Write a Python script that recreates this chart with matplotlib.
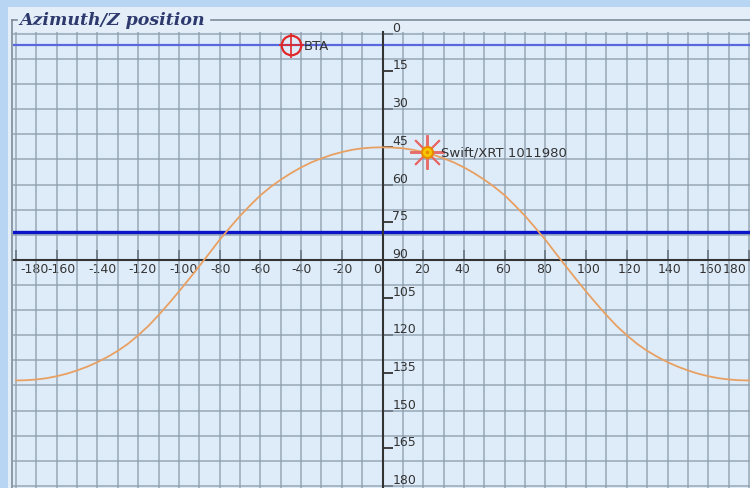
import matplotlib
matplotlib.use("Agg")
import matplotlib.pyplot as plt
from matplotlib.lines import Line2D
from matplotlib.patches import Rectangle
import matplotlib.transforms as mtransforms
import numpy as np

# diurnal path (azimuth deg, zenith distance deg)
path_az = [-180, -175, -170, -165, -160, -155, -150, -145, -140, -135, -130, -125,
           -120, -115, -110, -105, -100, -95, -90, -85, -80, -75, -70, -65,
           -60, -55, -50, -45, -40, -35, -30, -25, -20, -15, -10, -5,
           0, 5, 10, 15, 20, 25, 30, 35, 40, 45, 50, 55,
           60, 65, 70, 75, 80, 85, 90, 95, 100, 105, 110, 115,
           120, 125, 130, 135, 140, 145, 150, 155, 160, 165, 170, 175, 180]
path_z = [138.0, 137.9, 137.6, 137.1, 136.3, 135.3, 134.0, 132.5, 130.7, 128.6, 126.2, 123.4,
          120.0, 116.3, 112.0, 107.4, 102.6, 97.6, 92.5, 87.3, 82.0, 77.2, 72.5, 68.3,
          64.3, 61.0, 58.1, 55.5, 53.2, 51.2, 49.6, 48.2, 47.1, 46.2, 45.6, 45.3,
          45.2, 45.3, 45.6, 46.2, 47.1, 48.2, 49.6, 51.2, 53.2, 55.5, 58.1, 61.0,
          64.3, 68.3, 72.5, 77.2, 82.0, 87.3, 92.5, 97.6, 102.6, 107.4, 112.0, 116.3,
          120.0, 123.4, 126.2, 128.6, 130.7, 132.5, 134.0, 135.3, 136.3, 137.1, 137.6, 137.9, 138.0]

bta_az, bta_z = -45, 4.5
swift_az, swift_z = 22, 47.2
horizon_z = 79

xticks = list(range(-180, 181, 20))
yticks = list(range(0, 181, 15))

outer_bg = "#b8d6f4"
panel_bg = "#e3eef9"
plot_bg = "#deecfa"
grid_col = "#8e9eac"
text_col = "#333333"

W, H = 750, 489
fig = plt.figure(figsize=(W / 100, H / 100), dpi=100, facecolor=outer_bg)

# light panel and fieldset border
fig.add_artist(Rectangle((8 / W, 0), 1, 1 - 8 / H, transform=fig.transFigure,
                         facecolor=panel_bg, edgecolor="none", zorder=0))
fy = 1 - 20.5 / H
fig.add_artist(Line2D([12 / W, 12 / W], [0, fy], transform=fig.transFigure, color="#7d8c98", lw=1.2))
fig.add_artist(Line2D([12 / W, 17 / W], [fy, fy], transform=fig.transFigure, color="#7d8c98", lw=1.2))
fig.add_artist(Line2D([211 / W, 1], [fy, fy], transform=fig.transFigure, color="#7d8c98", lw=1.2))
fig.text(19 / W, fy, "Azimuth/Z position", ha="left", va="center",
         family="DejaVu Serif", weight="bold", style="italic", fontsize=12.5, color="#2e3a6e")

ax = fig.add_axes([13 / W, 0, 737 / W, 456 / H])
ax.set_facecolor(plot_bg)
ax.set_xlim(-181.5, 180.5)
ax.set_ylim(180.8, -0.7)

# grid every 10 degrees
ax.xaxis.remove_overlapping_locs = False
ax.yaxis.remove_overlapping_locs = False
ax.set_xticks(np.arange(-180, 181, 10), minor=True)
ax.set_yticks(np.arange(0, 181, 10), minor=True)
ax.grid(which="minor", color=grid_col, lw=1.3, alpha=0.75)
ax.grid(which="major", visible=False)
ax.tick_params(which="minor", length=0)
ax.set_axisbelow(True)

# axes crossing at (0, 90)
for s in ["left", "top"]:
    ax.spines[s].set_visible(False)
ax.spines["bottom"].set_position(("data", 90))
ax.spines["right"].set_position(("data", 0))
for s in ["bottom", "right"]:
    ax.spines[s].set_color("#333333")
    ax.spines[s].set_linewidth(1.5)
    ax.spines[s].set_zorder(3)

ax.set_xticks(xticks)
ax.set_xticklabels([str(v) for v in xticks])
ax.xaxis.set_ticks_position("bottom")
ax.tick_params(axis="x", which="major", direction="in", length=7, width=1.3,
               color="#333333", labelsize=9, labelcolor=text_col, pad=1.5)

ax.set_yticks(yticks)
ax.set_yticklabels([str(v) for v in yticks])
ax.yaxis.set_ticks_position("right")
ax.tick_params(axis="y", which="major", direction="out", length=7, width=1.3,
               color="#333333", labelsize=9, labelcolor=text_col, pad=0)

for lab, v in zip(ax.get_xticklabels(), xticks):
    if v == -180:
        dx = 4
        lab.set_ha("left")
    elif v == 180:
        dx = -2
        lab.set_ha("right")
    else:
        dx = -9.5
        lab.set_ha("left")
    lab.set_transform(lab.get_transform() + mtransforms.ScaledTranslation(dx / 100, 0, fig.dpi_scale_trans))

for lab in ax.get_yticklabels():
    lab.set_va("bottom")
    lab.set_ha("left")

# horizon-ish lines
ax.axhline(bta_z, color="#5a68e0", lw=1.6, zorder=2)
ax.axhline(horizon_z, color="#0a14c8", lw=2.4, zorder=2)

# path of the object
ax.plot(path_az, path_z, color="#e8a062", lw=1.3, zorder=4)

# BTA telescope marker
ax.plot(bta_az, bta_z, marker="o", ms=14, mfc="none", mec="#e02828", mew=1.6, zorder=5)
ax.plot(bta_az, bta_z, marker="+", ms=18, mec="#e02828", mew=1.2, zorder=5)
ax.annotate("BTA", (bta_az, bta_z), xytext=(9, 0), textcoords="offset points",
            ha="left", va="center", fontsize=9.5, color="#333333", zorder=6)

# Swift/XRT source marker
ax.plot(swift_az, swift_z, marker=(8, 2, 0), ms=25, mec="#e66a6a", mew=1.4, zorder=5)
ax.plot(swift_az, swift_z, marker="o", ms=8, mfc="#f7c600", mec="#e88a00", mew=1.5, zorder=6)
ax.plot(swift_az, swift_z, marker="o", ms=2.5, mfc="#e88a00", mec="none", zorder=7)
ax.annotate("Swift/XRT 1011980", (swift_az, swift_z), xytext=(10, 0), textcoords="offset points",
            ha="left", va="center", fontsize=9.5, color="#333333", zorder=6)

fig.savefig("out.png", dpi=100, facecolor=outer_bg)
